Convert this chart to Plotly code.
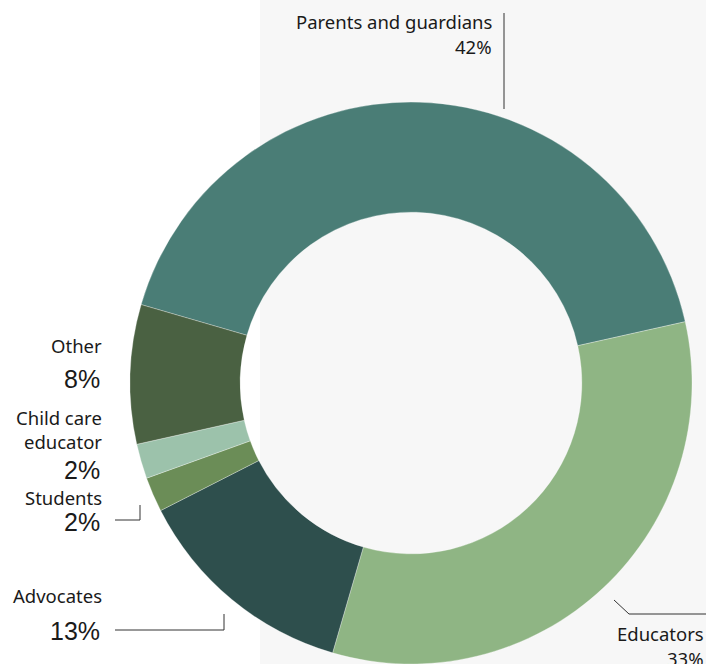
import plotly.graph_objects as go

W, H = 706, 664

categories = ["Parents and guardians", "Educators", "Advocates", "Students", "Child care educator", "Other"]
values = [42, 33, 13, 2, 2, 8]
colors = ["#4a7d76", "#8fb584", "#2e4f4d", "#6b8d57", "#9cc2ab", "#4a6142"]

fig = go.Figure()
fig.add_trace(go.Pie(
    labels=categories, values=values, sort=False, direction="clockwise",
    rotation=286.2, hole=0.608,
    marker=dict(colors=colors, line=dict(color="rgba(255,255,255,0.6)", width=0.5)),
    textinfo="none", hoverinfo="label+percent", showlegend=False,
    domain=dict(x=[0.1841, 0.9802], y=[0.0, 0.8464]),
))

def px(x):
    return x / W

def py(y):
    return 1 - y / H

shapes = [
    dict(type="rect", xref="paper", yref="paper", x0=px(260), x1=1.0, y0=0, y1=1,
         fillcolor="#f7f7f7", line=dict(width=0), layer="below"),
    # Parents leader
    dict(type="line", xref="paper", yref="paper", x0=px(504), x1=px(504), y0=py(13), y1=py(109),
         line=dict(color="#333333", width=1)),
    # Students leader
    dict(type="path", xref="paper", yref="paper",
         path=f"M {px(115)},{py(520)} L {px(140)},{py(520)} L {px(140)},{py(505)}",
         line=dict(color="#333333", width=1)),
    # Advocates leader
    dict(type="path", xref="paper", yref="paper",
         path=f"M {px(115)},{py(630)} L {px(224)},{py(630)} L {px(224)},{py(614)}",
         line=dict(color="#333333", width=1)),
    # Educators leader
    dict(type="path", xref="paper", yref="paper",
         path=f"M {px(614)},{py(600)} L {px(629)},{py(614)} L {px(706)},{py(614)}",
         line=dict(color="#333333", width=1)),
]

lab_font = dict(family="Noto Sans", size=18.5, color="#1a1a1a")
num_font = dict(family="Liberation Sans, Arial", size=25, color="#1a1a1a")

def ann(text, x, y, font, xanchor="right"):
    return dict(text=text, x=px(x), y=py(y), xref="paper", yref="paper",
                xanchor=xanchor, yanchor="middle", showarrow=False, font=font, align="right")

pct = [f"{v}%" for v in values]

annotations = [
    ann(categories[0], 494, 22, lab_font),
    ann(pct[0], 494, 47, lab_font),
    ann(categories[5], 104, 345, lab_font),
    ann(pct[5], 102, 379, num_font),
    ann("Child care", 104, 417, lab_font),
    ann("educator", 104, 441, lab_font),
    ann(pct[4], 102, 470, num_font),
    ann(categories[3], 104, 497, lab_font),
    ann(pct[3], 102, 522, num_font),
    ann(categories[2], 104, 595, lab_font),
    ann(pct[2], 102, 631, num_font),
    ann(categories[1], 706, 633, lab_font),
    ann(pct[1], 706, 658, lab_font),
]

fig.update_layout(
    width=W, height=H, margin=dict(l=0, r=0, t=0, b=0),
    paper_bgcolor="white", plot_bgcolor="white",
    shapes=shapes, annotations=annotations,
)

fig.write_html("out.html")
